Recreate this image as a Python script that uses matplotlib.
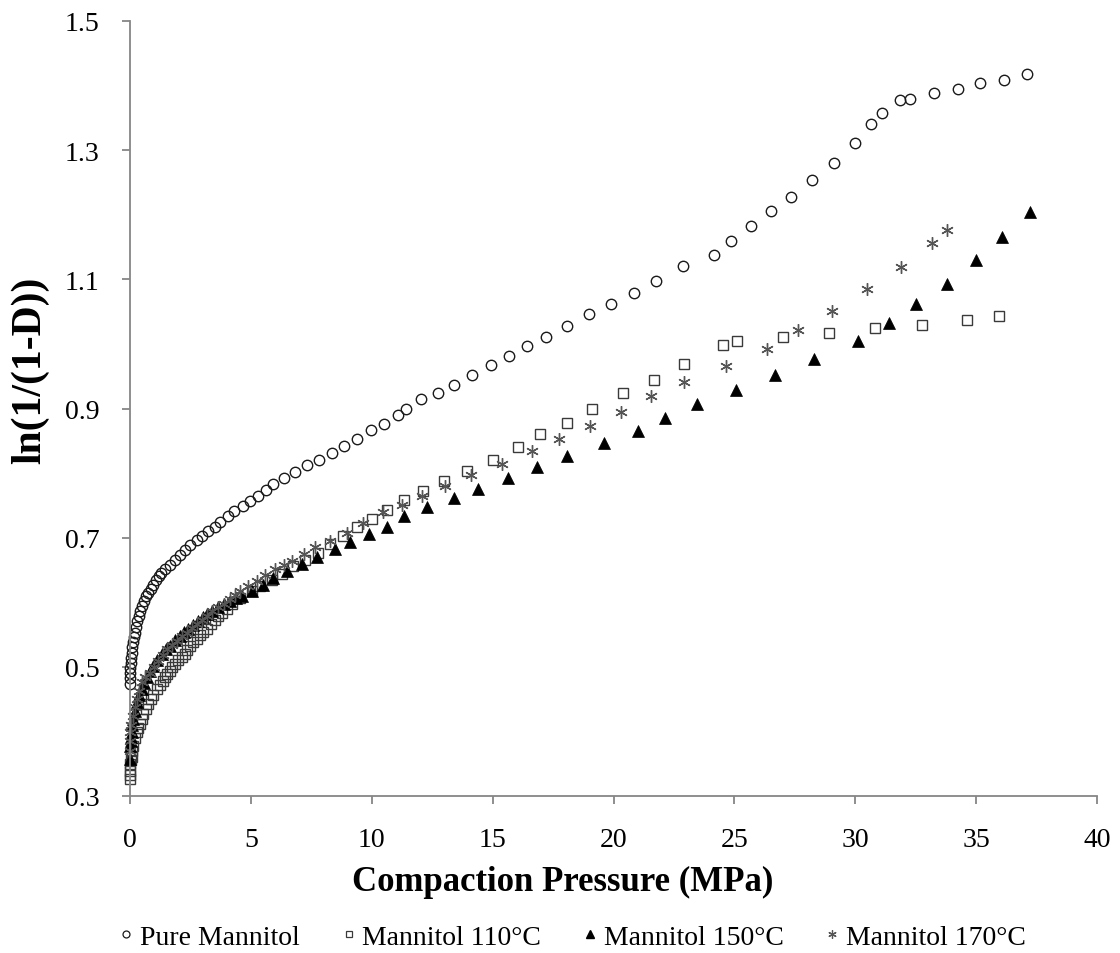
import matplotlib
matplotlib.use("Agg")
import matplotlib.pyplot as plt
from matplotlib.lines import Line2D

plt.rcParams['font.family'] = ['Liberation Serif', 'DejaVu Serif']

# ---- data ----
pure_p = [0.0, 0.005, 0.01, 0.02, 0.03, 0.05, 0.07, 0.10, 0.13, 0.17, 0.21, 0.26, 0.31, 0.37, 0.43,
          0.50, 0.58, 0.66, 0.75, 0.85, 0.95, 1.06, 1.18, 1.30, 1.45, 1.65, 1.86, 2.07, 2.28, 2.48,
          2.76, 2.97, 3.24, 3.52, 3.72, 4.07, 4.31, 4.66, 4.96, 5.31, 5.63, 5.93, 6.37, 6.83, 7.33,
          7.82, 8.37, 8.86, 9.38, 9.96, 10.52, 11.07, 11.42, 12.03, 12.74, 13.42, 14.16, 14.92,
          15.66, 16.41, 17.19, 18.06, 18.99, 19.88, 20.85, 21.75, 22.88, 24.16, 24.86, 25.68,
          26.51, 27.36, 28.21, 29.12, 29.97, 30.65, 31.11, 31.85, 32.26, 33.26, 34.25, 35.18,
          36.14, 37.10]
pure_y = [0.474, 0.482, 0.490, 0.498, 0.506, 0.514, 0.522, 0.530, 0.538, 0.546, 0.553, 0.562, 0.571,
          0.579, 0.586, 0.594, 0.602, 0.609, 0.615, 0.621, 0.627, 0.634, 0.640, 0.645, 0.652, 0.658,
          0.666, 0.673, 0.681, 0.688, 0.697, 0.702, 0.711, 0.717, 0.725, 0.734, 0.742, 0.749, 0.757,
          0.765, 0.774, 0.783, 0.792, 0.801, 0.812, 0.820, 0.831, 0.842, 0.853, 0.866, 0.876, 0.890,
          0.899, 0.914, 0.924, 0.937, 0.952, 0.967, 0.982, 0.997, 1.011, 1.028, 1.046, 1.062, 1.079,
          1.098, 1.120, 1.138, 1.159, 1.183, 1.206, 1.228, 1.254, 1.280, 1.311, 1.340, 1.358, 1.378,
          1.379, 1.389, 1.395, 1.404, 1.409, 1.418]

m110_p = [0.0, 0.0, 0.01, 0.02, 0.04, 0.07, 0.10, 0.14, 0.20, 0.28, 0.34, 0.41, 0.48, 0.55, 0.65,
          0.76, 0.86, 0.96, 1.10, 1.24, 1.35, 1.45, 1.55, 1.65, 1.75, 1.86, 2.00, 2.14, 2.26, 2.37,
          2.50, 2.62, 2.76, 2.90, 3.04, 3.17, 3.35, 3.52, 3.65, 3.79, 4.00, 4.21, 4.55, 5.03, 5.38,
          5.86, 6.27, 6.76, 7.24, 7.79, 8.27, 8.80, 9.38, 10.00, 10.62, 11.32, 12.11, 12.98, 13.94,
          15.03, 16.06, 16.97, 18.06, 19.11, 20.39, 21.67, 22.90, 24.53, 25.10, 27.03, 28.93, 30.83,
          32.75, 34.62, 35.96]
m110_y = [0.326, 0.339, 0.332, 0.350, 0.355, 0.360, 0.370, 0.378, 0.390, 0.399, 0.405, 0.412, 0.420,
          0.427, 0.435, 0.442, 0.450, 0.457, 0.465, 0.472, 0.478, 0.484, 0.489, 0.494, 0.499, 0.504,
          0.510, 0.515, 0.520, 0.526, 0.532, 0.538, 0.543, 0.549, 0.554, 0.559, 0.566, 0.572, 0.578,
          0.584, 0.590, 0.597, 0.607, 0.617, 0.625, 0.635, 0.644, 0.656, 0.665, 0.677, 0.690, 0.702,
          0.716, 0.729, 0.743, 0.759, 0.773, 0.788, 0.804, 0.821, 0.841, 0.860, 0.878, 0.899, 0.924,
          0.944, 0.969, 0.998, 1.004, 1.011, 1.017, 1.024, 1.030, 1.037, 1.043]

m150_p = [0.01, 0.02, 0.03, 0.05, 0.07, 0.10, 0.14, 0.20, 0.28, 0.36, 0.48, 0.58, 0.69, 0.82, 0.96,
          1.12, 1.31, 1.48, 1.65, 1.85, 2.07, 2.24, 2.41, 2.62, 2.83, 3.00, 3.17, 3.40, 3.65, 3.90,
          4.14, 4.38, 4.62, 5.03, 5.49, 5.90, 6.48, 7.10, 7.72, 8.48, 9.10, 9.90, 10.64, 11.35,
          12.29, 13.39, 14.40, 15.62, 16.82, 18.08, 19.61, 21.00, 22.14, 23.45, 25.05, 26.70,
          28.31, 30.13, 31.38, 32.53, 33.78, 34.99, 36.07, 37.22]
m150_y = [0.357, 0.378, 0.385, 0.392, 0.399, 0.410, 0.419, 0.432, 0.445, 0.456, 0.466, 0.475, 0.484,
          0.494, 0.502, 0.511, 0.520, 0.527, 0.533, 0.541, 0.548, 0.554, 0.559, 0.565, 0.571, 0.577,
          0.582, 0.587, 0.592, 0.597, 0.602, 0.606, 0.609, 0.618, 0.627, 0.637, 0.649, 0.659, 0.670,
          0.682, 0.693, 0.706, 0.717, 0.734, 0.747, 0.761, 0.776, 0.793, 0.810, 0.827, 0.847, 0.865,
          0.885, 0.907, 0.929, 0.952, 0.977, 1.004, 1.032, 1.062, 1.093, 1.130, 1.166, 1.205]

m170_p = [0.0, 0.0, 0.02, 0.05, 0.14, 0.20, 0.28, 0.36, 0.48, 0.64, 0.83, 1.00, 1.17, 1.35, 1.52,
          1.72, 1.93, 2.14, 2.34, 2.55, 2.76, 2.96, 3.17, 3.40, 3.65, 3.90, 4.14, 4.35, 4.55, 4.90,
          5.24, 5.60, 6.00, 6.35, 6.69, 7.20, 7.65, 8.27, 8.96, 9.65, 10.48, 11.24, 12.09, 13.01,
          14.12, 15.38, 16.62, 17.76, 19.04, 20.29, 21.55, 22.93, 24.67, 26.35, 27.62, 29.04, 30.47,
          31.90, 33.19, 33.78]
m170_y = [0.370, 0.399, 0.385, 0.410, 0.424, 0.438, 0.450, 0.463, 0.476, 0.484, 0.491, 0.500, 0.509,
          0.518, 0.528, 0.534, 0.540, 0.547, 0.553, 0.560, 0.566, 0.572, 0.579, 0.586, 0.592, 0.598,
          0.605, 0.611, 0.618, 0.625, 0.633, 0.642, 0.651, 0.657, 0.664, 0.675, 0.685, 0.695, 0.708,
          0.722, 0.739, 0.750, 0.765, 0.780, 0.797, 0.814, 0.834, 0.853, 0.873, 0.894, 0.919, 0.941,
          0.966, 0.992, 1.022, 1.051, 1.085, 1.119, 1.157, 1.177]

x_ticks = [0, 5, 10, 15, 20, 25, 30, 35, 40]
y_ticks = [0.3, 0.5, 0.7, 0.9, 1.1, 1.3, 1.5]
x_label = "Compaction Pressure (MPa)"
y_label = "ln(1/(1-D))"
labels = ["Pure Mannitol", "Mannitol 110°C", "Mannitol 150°C", "Mannitol 170°C"]

# ---- figure ----
W, H = 1120, 954
fig = plt.figure(figsize=(W / 100, H / 100), dpi=100)
ax = fig.add_axes([130 / W, 1 - 797 / H, 967 / W, 775 / H])

axis_gray = '#868686'
ax.plot(pure_p, pure_y, linestyle='none', marker='o', markersize=7.5,
        markerfacecolor='none', markeredgecolor='#1a1a1a', markeredgewidth=1.0, clip_on=False)
ax.plot(m110_p, m110_y, linestyle='none', marker='s', markersize=7.3,
        markerfacecolor='none', markeredgecolor='#3a3a3a', markeredgewidth=1.0, clip_on=False)
ax.plot(m150_p, m150_y, linestyle='none', marker='^', markersize=8,
        markerfacecolor='black', markeredgecolor='black', markeredgewidth=0.5, clip_on=False)
ax.plot(m170_p, m170_y, linestyle='none', marker=(6, 2, 0), markersize=9,
        markerfacecolor='none', markeredgecolor='#555555', markeredgewidth=1.0, clip_on=False)

ax.set_xlim(0, 40)
ax.set_ylim(0.3, 1.5)
ax.set_xticks(x_ticks)
ax.set_yticks(y_ticks)
ax.set_xticklabels([str(v) for v in x_ticks])
ax.set_yticklabels([f"{v:.1f}" for v in y_ticks])

for s in ['top', 'right']:
    ax.spines[s].set_visible(False)
for s in ['left', 'bottom']:
    ax.spines[s].set_color(axis_gray)
    ax.spines[s].set_linewidth(1.3)
ax.tick_params(axis='both', direction='out', length=6, width=1.3, color=axis_gray,
               labelsize=20, labelcolor='black', pad=16)

fig.text(30 / W, 1 - 370 / H, y_label, rotation=90, ha='center', va='center',
         fontsize=30, fontweight='bold')
fig.text(563 / W, 1 - 882 / H, x_label, ha='center', va='center',
         fontsize=25, fontweight='bold')

handles = [
    Line2D([], [], linestyle='none', marker='o', markersize=5, markerfacecolor='none',
           markeredgecolor='#1a1a1a', markeredgewidth=0.9),
    Line2D([], [], linestyle='none', marker='s', markersize=5, markerfacecolor='none',
           markeredgecolor='#3a3a3a', markeredgewidth=0.9),
    Line2D([], [], linestyle='none', marker='^', markersize=5.5, markerfacecolor='black',
           markeredgecolor='black'),
    Line2D([], [], linestyle='none', marker=(6, 2, 0), markersize=6, markerfacecolor='none',
           markeredgecolor='#555555', markeredgewidth=0.9),
]
fig.legend(handles, labels, loc='center', bbox_to_anchor=(572 / W, 1 - 938 / H), ncol=4,
           frameon=False, fontsize=20, handlelength=0.6, handletextpad=0.2, columnspacing=1.45)

fig.savefig('out.png', dpi=100)
